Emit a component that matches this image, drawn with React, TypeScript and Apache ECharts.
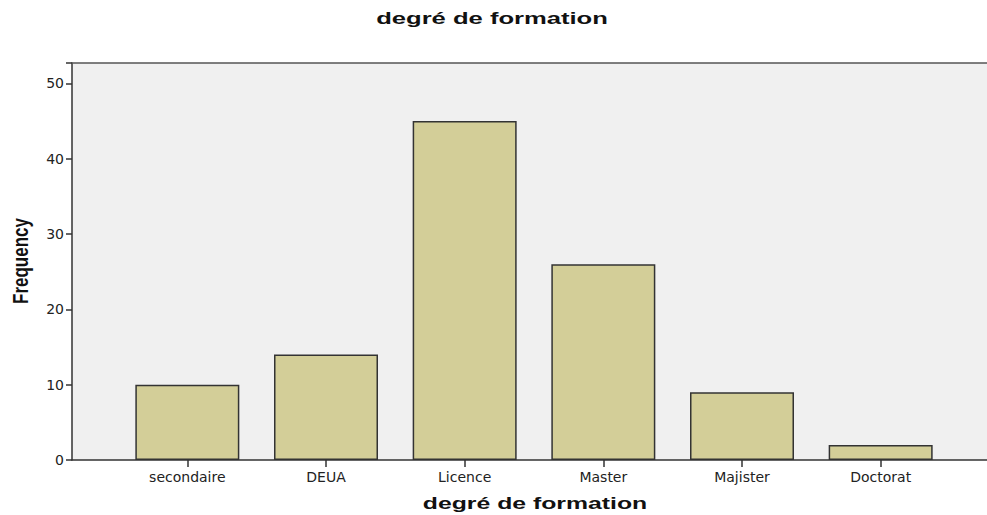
import React, { useEffect, useRef } from "react";
import * as echarts from "echarts";

const categories = ["secondaire", "DEUA", "Licence", "Master", "Majister", "Doctorat"];
const frequencies = [10, 14, 45, 26, 9, 2];
const yMax = 52.7;
const yInterval = 10;
const chartTitle = "degré de formation";
const xTitle = "degré de formation";
const yTitle = "Frequency";

export default function App() {
  const ref = useRef<HTMLDivElement>(null);
  useEffect(() => {
    if (!ref.current) return;
    const chart = echarts.init(ref.current, null, { renderer: "svg" });
    const axisColor = "#333333";
    chart.setOption({
      animation: false,
      backgroundColor: "#ffffff",
      grid: [
        { left: 72, right: 0, top: 63, bottom: 55, show: true, backgroundColor: "#F0F0F0", borderWidth: 0 },
        { left: 118, right: 37, top: 63, bottom: 55 },
      ],
      xAxis: [
        {
          type: "value", gridIndex: 0, position: "bottom", min: 0, max: 1,
          axisLine: { show: true, lineStyle: { color: axisColor, width: 1.5 } },
          axisTick: { show: false }, axisLabel: { show: false }, splitLine: { show: false },
        },
        {
          type: "value", gridIndex: 0, position: "top", min: 0, max: 1,
          axisLine: { show: true, lineStyle: { color: "#555", width: 1.5 } },
          axisTick: { show: false }, axisLabel: { show: false }, splitLine: { show: false },
        },
        {
          type: "category", gridIndex: 1, data: categories,
          axisLine: { show: false },
          axisTick: { show: true, alignWithLabel: true, length: 7, lineStyle: { color: axisColor, width: 1.5 } },
          axisLabel: { color: "#222", fontFamily: "DejaVu Sans", fontSize: 14, margin: 10 },
        },
      ],
      yAxis: [
        {
          type: "value", gridIndex: 0, min: 0, max: yMax, interval: yInterval,
          axisLine: { show: true, lineStyle: { color: axisColor, width: 1.5 } },
          axisTick: { show: true, length: 6, lineStyle: { color: axisColor, width: 1.5 } },
          axisLabel: {
            color: "#222", fontFamily: "DejaVu Sans", fontSize: 14, margin: 8,
            formatter: (v: number) => (v % yInterval === 0 ? String(v) : ""),
          },
          splitLine: { show: false },
        },
        {
          type: "value", gridIndex: 1, min: 0, max: yMax, interval: yInterval,
          show: false, splitLine: { show: false },
        },
      ],
      series: [
        {
          type: "bar", xAxisIndex: 2, yAxisIndex: 1, data: frequencies,
          barCategoryGap: "25%",
          itemStyle: { color: "#D3CE98", borderColor: "#333333", borderWidth: 1.5 },
        },
      ],
      graphic: [
        {
          type: "text", x: 492, y: 19, scaleX: 1.6,
          style: { text: chartTitle, font: "bold 16px 'Liberation Sans'", fill: "#111", textAlign: "center", textVerticalAlign: "middle" },
        },
        {
          type: "text", x: 535, y: 503, scaleX: 1.55,
          style: { text: xTitle, font: "bold 16px 'Liberation Sans'", fill: "#111", textAlign: "center", textVerticalAlign: "middle" },
        },
        {
          type: "text", x: 20, y: 261, rotation: Math.PI / 2, scaleY: 1.3,
          style: { text: yTitle, font: "bold 17px 'Liberation Sans'", fill: "#111", textAlign: "center", textVerticalAlign: "middle" },
        },
      ],
    });
    return () => chart.dispose();
  }, []);
  return <div ref={ref} style={{ width: 987, height: 515, position: "absolute", left: 0, top: 0 }} />;
}
